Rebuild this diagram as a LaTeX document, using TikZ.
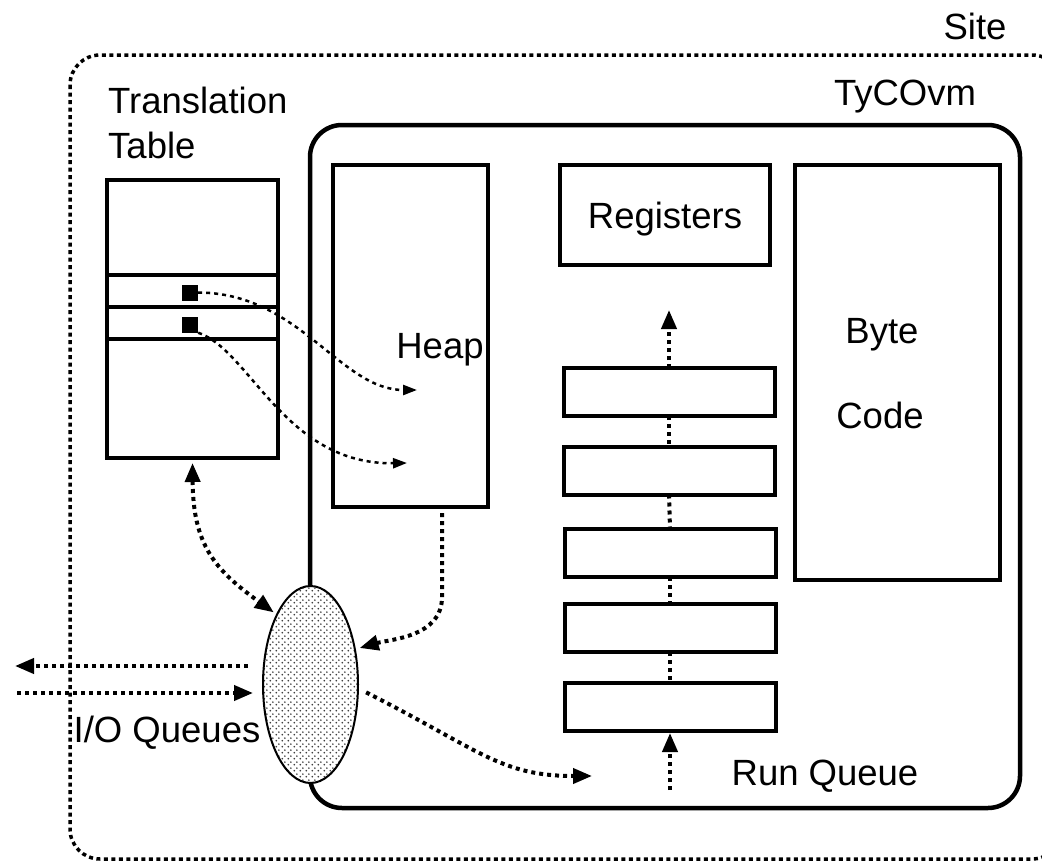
\documentclass[tikz,border=0pt]{standalone}
\usepackage{fontspec}
\setmainfont{Liberation Sans}
\usetikzlibrary{arrows.meta,shapes.geometric,patterns}
% grey stipple used inside the I/O queue ellipse
\pgfdeclarepatternformonly{gdots}{\pgfpointorigin}{\pgfpoint{5.6pt}{5.6pt}}{\pgfpoint{5.6pt}{5.6pt}}{%
  \pgfpathcircle{\pgfpoint{1.4pt}{1.4pt}}{0.95pt}%
  \pgfpathcircle{\pgfpoint{4.2pt}{4.2pt}}{0.95pt}%
  \pgfusepath{fill}}
\begin{document}
\begin{tikzpicture}[x=1pt,y=-1pt,
  font=\fontsize{36.5}{43}\selectfont,
  box/.style={draw, line width=4pt, inner sep=0pt, outer sep=0pt},
  txt/.style={inner sep=0pt, anchor=base},
  chain/.style={line width=4pt, dash pattern=on 4pt off 4pt},
  flow/.style={chain, -{Triangle[length=19pt,width=15pt]}},
  link/.style={line width=2.5pt, dash pattern=on 4pt off 4pt, -{Triangle[length=14pt,width=10pt]}},
  sitebox/.style={line width=3.5pt, dash pattern=on 4pt off 3.5pt, rounded corners=30pt}]
\useasboundingbox (0,0) rectangle (1042,862);
\clip (0,0) rectangle (1042,862);

% site boundary
\draw[sitebox] (70,55) rectangle (1062,859);
\node[txt] (site) at (975,39) {Site};

% virtual machine
\node[draw, line width=4.5pt, rounded corners=32pt, minimum width=710pt, minimum height=683pt, inner sep=0pt] (vm) at (665,466.5) {};
\node[txt] (vmname) at (905,105) {TyCOvm};

% translation table
\node[txt, anchor=base west] (ttl1) at (108,113) {Translation};
\node[txt, anchor=base west] (ttl2) at (108,158) {Table};
\node[box, minimum width=171pt, minimum height=278pt] (tt) at (192.5,319) {};
\foreach \yy in {275,307,339}
  \draw[line width=4pt] (tt.west |- 0,\yy) -- (tt.east |- 0,\yy);
\node[fill, minimum size=16pt, inner sep=0pt] (s1) at (190,292.5) {};
\node[fill, minimum size=16pt, inner sep=0pt] (s2) at (190,324.5) {};

% heap, registers, byte code
\node[box, minimum width=155pt, minimum height=342pt] (heap) at (410.5,336) {};
\node[txt] (heapname) at (440,358) {Heap};
\node[box, minimum width=210pt, minimum height=100pt] (regs) at (665,215) {};
\node[txt] (regname) at (665,228) {Registers};
\node[box, minimum width=205pt, minimum height=415pt] (code) at (897.5,372.5) {};
\node[txt] (bc1) at (882,343) {Byte};
\node[txt] (bc2) at (880,428) {Code};

% run queue
\node[box, minimum width=211pt, minimum height=48pt] (q1) at (669,392) {};
\node[box, minimum width=211pt, minimum height=48pt] (q2) at (669,470.5) {};
\node[box, minimum width=211pt, minimum height=48pt] (q3) at (670,553) {};
\node[box, minimum width=211pt, minimum height=48pt] (q4) at (670,628) {};
\node[box, minimum width=211pt, minimum height=48pt] (q5) at (670,707) {};
\node[txt] (rqname) at (825,785) {Run Queue};
\draw[chain] (q1.south) -- (q2.north);
\draw[chain] (q2.south) -- (q3.north);
\draw[chain] (q3.south) -- (q4.north);
\draw[chain] (q4.south) -- (q5.north);
\draw[flow] (q1.north) -- ++(0,-58);
\coordinate (rqin) at (670,790);
\draw[flow, shorten >=2pt] (rqin) -- (q5.south);

% I/O queues
\node[ellipse, draw, line width=2pt, minimum width=95pt, minimum height=197pt, inner sep=0pt,
      preaction={fill=white}, pattern=gdots, pattern color=black!75] (ioq) at (310.5,684.5) {};
\node[txt] (ioname) at (167,742) {I/O Queues};
\coordinate (ioout) at (15,666);
\coordinate (ioin) at (17,693);
\draw[flow, shorten <=14pt] (ioq.west |- ioout) -- (ioout);
\draw[flow, shorten >=9pt] (ioin) -- (ioq.west |- ioin);

% table entries pointing into the heap
\coordinate (h1) at (417,390);
\coordinate (h2) at (407,463);
\draw[link] (s1.east) .. controls (300,293) and (340,390) .. (h1);
\draw[link] (s2.south east) .. controls (250,350) and (285,465) .. (h2);

% traffic to and from the I/O queues
\draw[flow, {Triangle[length=19pt,width=15pt]}-{Triangle[length=19pt,width=15pt]}, shorten <=5pt, shorten >=3pt]
  (tt.south) .. controls (193,545) and (215,570) .. (ioq.north west);
\draw[flow, shorten <=6pt, shorten >=4pt]
  ([xshift=31.5pt]heap.south) -- ++(0,90) .. controls +(0,40) and +(35,-10) .. (ioq.38);
\coordinate (rqarr) at (592,776);
\draw[flow, shorten <=8pt] (ioq.-5) .. controls (480,750) and (500,776) .. (rqarr);
\end{tikzpicture}
\end{document}
